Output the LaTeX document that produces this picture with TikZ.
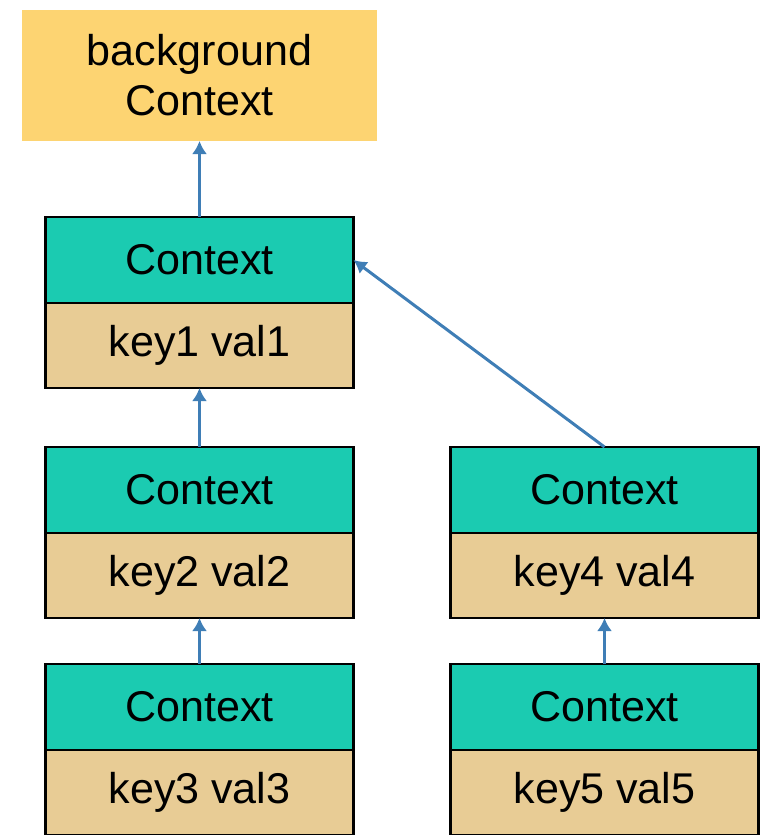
\documentclass[tikz,border=0pt]{standalone}
\usepackage{fontspec}
\setmainfont{Liberation Sans}
\usetikzlibrary{positioning, arrows.meta}
\definecolor{ctxteal}{HTML}{1BCBB1}
\definecolor{ctxtan}{HTML}{E8CC95}
\definecolor{ctxyellow}{HTML}{FDD472}
\definecolor{ctxblue}{HTML}{3F7EB6}
\tikzset{link/.style={line width=0.6mm, draw=ctxblue, -{Latex[length=2.6mm, width=3mm]}}}
\tikzset{ctxhead/.style={draw=black, fill=ctxteal, line width=1.4pt, minimum width=6.16cm, minimum height=1.72cm}}
\tikzset{ctxval/.style={draw=black, fill=ctxtan, line width=1.4pt, minimum width=6.16cm, minimum height=1.70cm}}

\begin{document}
\begin{tikzpicture}[
                scale = 1,
                every node/.style={inner sep=0pt, outer sep=0pt, align=center, font=\fontsize{24.5}{28.5}\selectfont}
            ]
                \useasboundingbox (0,0) rectangle (15.4,-16.7);
                \node[fill=ctxyellow, minimum width=7.1cm, minimum height=2.62cm](bg) at (3.99,-1.51) {background\\Context};

                \node[ctxhead, below= 1.52cm of bg] (c1) {Context};
                \node[ctxval, below= 0pt of c1] (v1) {key1 val1};

                \node[ctxhead, below= 1.18cm of v1] (c2) {Context};
                \node[ctxval, below= 0pt of c2] (v2) {key2 val2};

                \node[ctxhead, below= 0.92cm of v2] (c3) {Context};
                \node[ctxval, below= 0pt of c3] (v3) {key3 val3};

                \node[ctxhead, right= 1.94cm of c2] (c4) {Context};
                \node[ctxval, below= 0pt of c4] (v4) {key4 val4};

                \node[ctxhead, below= 0.92cm of v4] (c5) {Context};
                \node[ctxval, below= 0pt of c5] (v5) {key5 val5};

                \draw[link] (c1) -- (bg);
                \draw[link] (c2) -- (v1);
                \draw[link] (c3) -- (v2);
                \draw[link] (c5) -- (v4);
                \draw[link] (c4.north) -- (c1.east);
            \end{tikzpicture}
\end{document}
